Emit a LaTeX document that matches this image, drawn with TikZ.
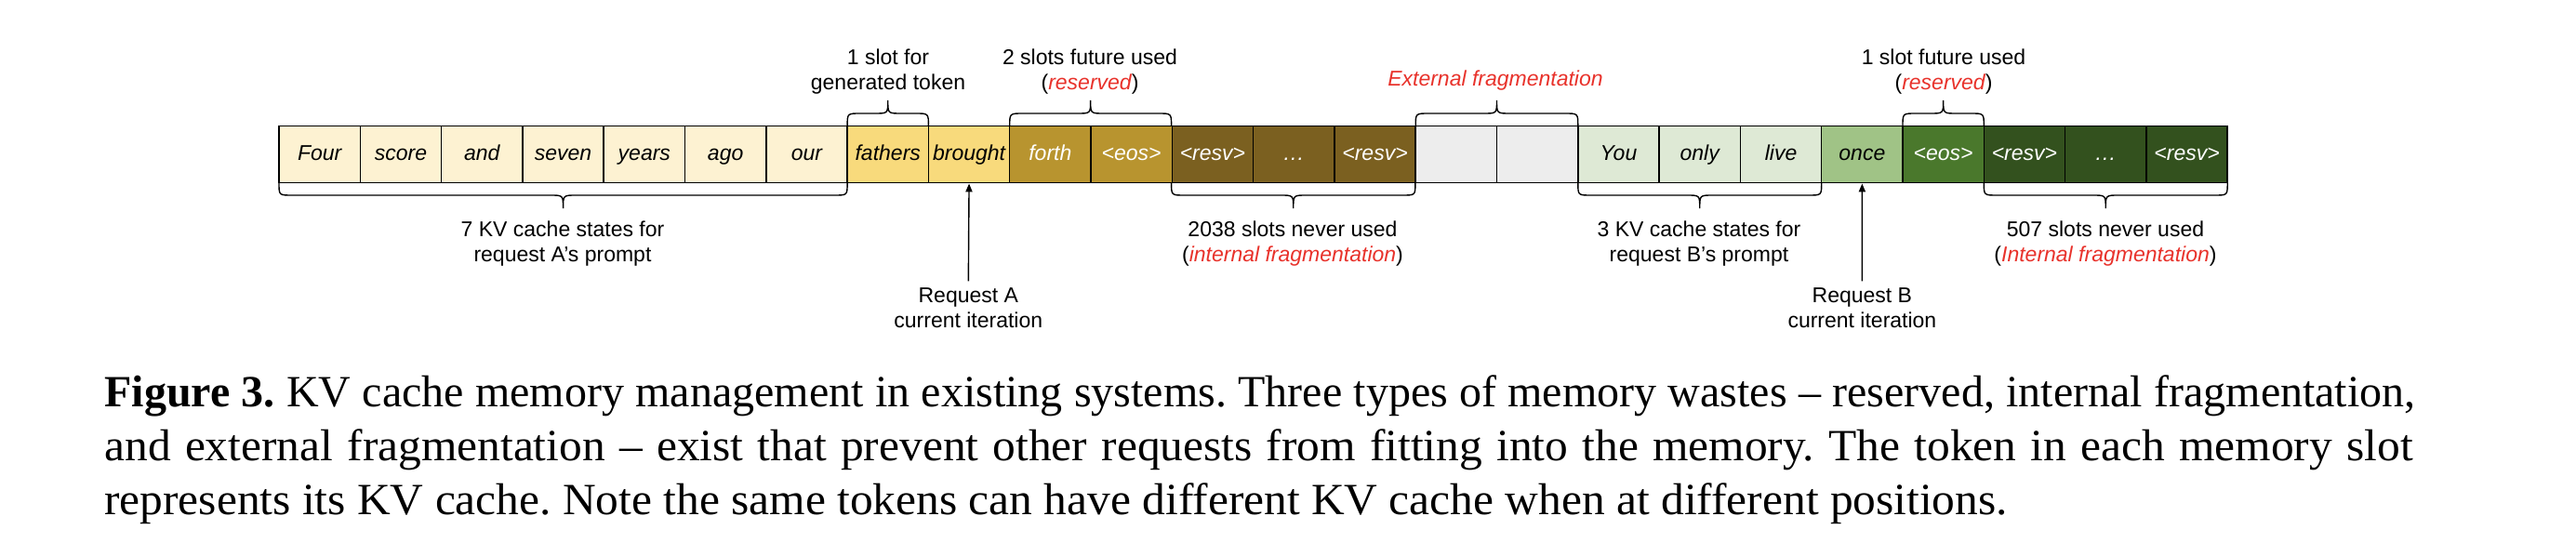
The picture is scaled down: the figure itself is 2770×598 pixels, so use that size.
\documentclass[tikz,border=0pt]{standalone}
\usepackage{fontspec}
\newfontfamily\arial{Liberation Sans}
\newfontfamily\capfont{Liberation Serif}
\newfontfamily\capfontw[FakeStretch=1.03]{Liberation Serif}
\usetikzlibrary{arrows.meta}
\definecolor{pA}{HTML}{FDF2D2}
\definecolor{gA}{HTML}{F8DA7C}
\definecolor{rA}{HTML}{B8942F}
\definecolor{iA}{HTML}{7B6020}
\definecolor{ext}{HTML}{EDEDED}
\definecolor{pB}{HTML}{DEE9D5}
\definecolor{gB}{HTML}{A0C386}
\definecolor{rB}{HTML}{4A782C}
\definecolor{iB}{HTML}{33511E}
\definecolor{redtxt}{HTML}{E8322B}
\newcommand\rd[1]{\textcolor{redtxt}{\itshape #1}}
\newcommand\tdots{.\kern0.05em.\kern0.05em.}
\newcommand\tbrace[2]{%
  \draw[brc] (#1,135.7) .. controls (#1,122) .. ({#1+14},122) -- ({(#1+#2)/2-14},122)
    .. controls ({(#1+#2)/2},122) .. ({(#1+#2)/2},108)
    .. controls ({(#1+#2)/2},122) .. ({(#1+#2)/2+14},122) -- ({#2-14},122)
    .. controls (#2,122) .. (#2,135.7);}
\newcommand\bbrace[2]{%
  \draw[brc] (#1,196.7) .. controls (#1,210) .. ({#1+14},210) -- ({(#1+#2)/2-14},210)
    .. controls ({(#1+#2)/2},210) .. ({(#1+#2)/2},224)
    .. controls ({(#1+#2)/2},210) .. ({(#1+#2)/2+14},210) -- ({#2-14},210)
    .. controls (#2,210) .. (#2,196.7);}
\begin{document}
\begin{tikzpicture}[x=0.5pt,y=-0.5pt,
  cell/.style={draw=black, line width=0.75pt, minimum width=43.65pt, minimum height=30.5pt,
    inner sep=0pt, text height=8.2pt, text depth=1.5pt,
    font=\arial\fontsize{11.5}{13.7}\selectfont\itshape},
  lbl/.style={font=\arial\fontsize{11.5}{13.7}\selectfont, align=center, inner sep=0pt, anchor=base},
  brc/.style={draw=black, line width=0.7pt},
  arr/.style={draw=black, line width=0.7pt, -{Triangle[length=4.5pt,width=3.6pt]}},
  captxt/.style={font=\capfont\fontsize{24}{28.75}\selectfont\frenchspacing, anchor=base west, inner sep=0pt},
  captxtw/.style={font=\capfontw\fontsize{24}{28.75}\selectfont\frenchspacing, anchor=base west, inner sep=0pt}]
\useasboundingbox (0,0) rectangle (2770,598);
\foreach \i/\t/\f/\c in {0/Four/pA/black,1/score/pA/black,2/and/pA/black,3/seven/pA/black,
  4/years/pA/black,5/ago/pA/black,6/our/pA/black,7/fathers/gA/black,8/brought/gA/black,
  9/forth/rA/white,10/<eos>/rA/white,11/<resv>/iA/white,12/\tdots/iA/white,13/<resv>/iA/white,
  14/{}/ext/black,15/{}/ext/black,16/You/pB/black,17/only/pB/black,18/live/pB/black,
  19/once/gB/black,20/<eos>/rB/white,21/<resv>/iB/white,22/\tdots/iB/white,23/<resv>/iB/white}
  \node[cell, fill=\f, text=\c] (c\i) at ({300+87.3*\i+43.65},166.2) {\t};
% top braces
\tbrace{911.1}{998.4}
\tbrace{1085.7}{1259.6}
\tbrace{1522.2}{1696.8}
\tbrace{2046}{2133.3}
% bottom braces
\bbrace{300}{911.1}
\bbrace{1259.6}{1521.9}
\bbrace{1696.8}{1958.7}
\bbrace{2133.3}{2395.2}
% labels (anchor base = last line)
\node[lbl] (gen) at (955,97) {1 slot for\\generated token};
\node[lbl] (resA) at (1172,97) {2 slots future used\\(\rd{reserved})};
\node[lbl] (extl) at (1608,93) {\rd{External fragmentation}};
\node[lbl] (resB) at (2090,97) {1 slot future used\\(\rd{reserved})};
\node[lbl] (prA) at (605,282) {7 KV cache states for\\request A’s prompt};
\node[lbl] (intA) at (1390,282) {2038 slots never used\\(\rd{internal fragmentation})};
\node[lbl] (prB) at (1827,282) {3 KV cache states for\\request B’s prompt};
\node[lbl] (intB) at (2264,282) {507 slots never used\\(\rd{Internal fragmentation})};
\node[lbl] (reqA) at (1041.3,353) {Request A\\current iteration};
\node[lbl] (reqB) at (2002.4,353) {Request B\\current iteration};
\draw[arr] (reqA.north) ++(0,-7) -- (c8.south);
\draw[arr] (reqB.north) ++(0,-7) -- (c19.south);
% caption
\node[captxt] (cap1) at (112,438) {\makebox[1242.5pt][s]{\textbf{Figure 3.} KV cache memory management in existing systems. Three types of memory wastes – reserved, internal fragmentation,}};
\node[captxtw] (cap2) at (112,495.5) {\makebox[1241pt][s]{and external fragmentation – exist that prevent other requests from fitting into the memory. The token in each memory slot}};
\node[captxtw] (cap3) at (112,553) {represents its KV cache. Note the same tokens can have different KV cache when at different positions.};
\end{tikzpicture}
\end{document}
